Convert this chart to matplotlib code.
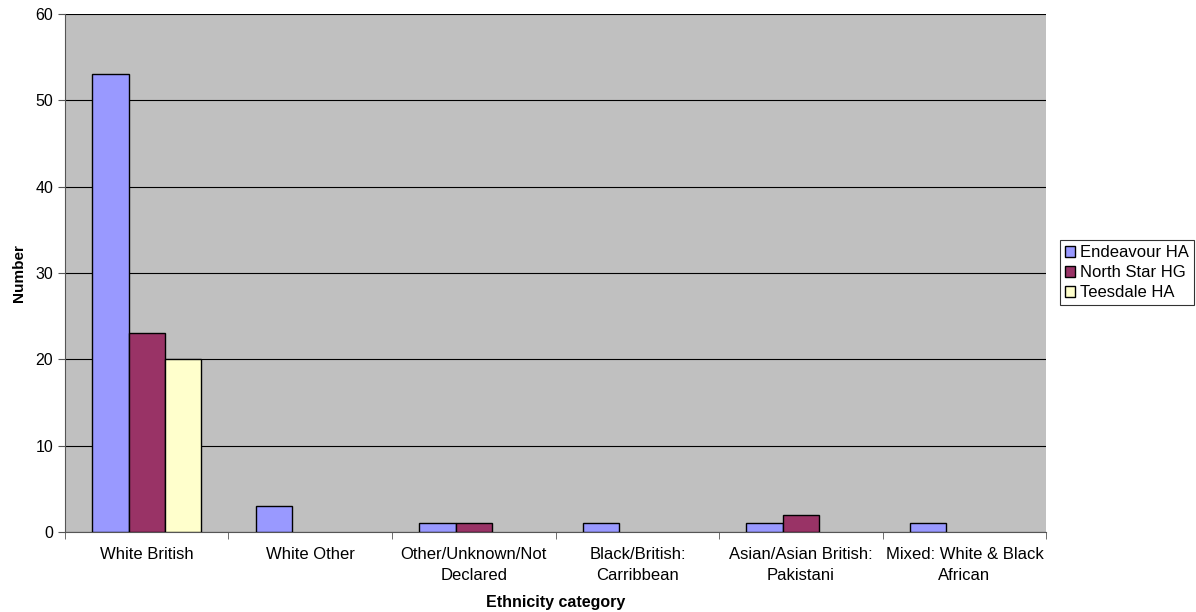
import numpy as np
import matplotlib.pyplot as plt

plt.rcParams['font.family'] = ['Liberation Sans', 'DejaVu Sans']

categories = ["White British", "White Other", "Other/Unknown/Not\nDeclared",
              "Black/British:\nCarribbean", "Asian/Asian British:\nPakistani",
              "Mixed: White & Black\nAfrican"]
series_names = ["Endeavour HA", "North Star HG", "Teesdale HA"]
endeavour = [53, 3, 1, 1, 1, 1]
north_star = [23, 0, 1, 0, 2, 0]
teesdale = [20, 0, 0, 0, 0, 0]
colors = ["#9999FF", "#993366", "#FFFFCC"]

fig = plt.figure(figsize=(11.96, 6.12), dpi=100)
ax = fig.add_axes([0.0543, 0.1307, 0.8205, 0.8465])
ax.set_facecolor("#C0C0C0")

x = np.arange(len(categories))
w = 1 / 4.5
for i, (vals, name, c) in enumerate(zip([endeavour, north_star, teesdale], series_names, colors)):
    v = np.array(vals, dtype=float)
    mask = v > 0
    ax.bar(x[mask] + (i - 1) * w, v[mask], width=w, color=c, edgecolor="black",
           linewidth=1, label=name, zorder=3)

ax.set_xlim(-0.5, len(categories) - 0.5)
ax.set_ylim(0, 60)
ax.set_yticks(range(0, 61, 10))
ax.yaxis.grid(True, color="black", linewidth=0.8, zorder=1)
ax.set_xticks(x)
ax.set_xticklabels(categories, fontsize=12, linespacing=1.45)
ax.tick_params(axis="x", length=0, pad=11)
ax.set_xticks(np.arange(-0.5, len(categories)), minor=True)
ax.tick_params(axis="x", which="minor", length=5, color="#555555")
ax.tick_params(axis="y", labelsize=11.5, length=5, color="#555555")
for s in ["top", "right"]:
    ax.spines[s].set_visible(False)
ax.spines["left"].set_color("#555555")
ax.spines["bottom"].set_color("#555555")

ax.set_xlabel("Ethnicity category", fontsize=11.5, fontweight="bold", labelpad=9)
ax.set_ylabel("Number", fontsize=11, fontweight="bold", labelpad=7)

leg = fig.legend(loc="center left", bbox_to_anchor=(0.886, 0.554), fontsize=12,
                 frameon=True, fancybox=False, edgecolor="black",
                 handlelength=0.65, handleheight=0.65, handletextpad=0.3,
                 borderpad=0.3, labelspacing=0.3, borderaxespad=0)
leg.get_frame().set_linewidth(0.8)

fig.savefig("out.png", dpi=100)
